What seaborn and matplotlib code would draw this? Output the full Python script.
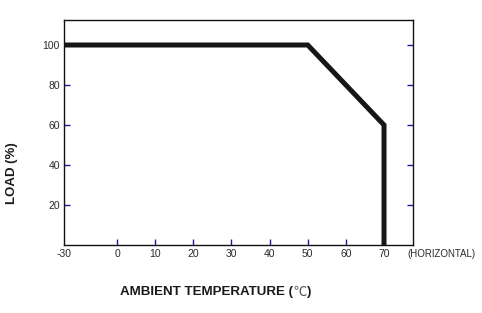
import numpy as np
import pandas as pd
import matplotlib
matplotlib.use("Agg")
import matplotlib.pyplot as plt
import seaborn as sns

# Data
temperature = [-30, 50, 70, 70]
load = [100, 100, 60, 0]
x_ticks = [-30, 0, 10, 20, 30, 40, 50, 60, 70]
y_ticks = [20, 40, 60, 80, 100]

sns.set_theme(style="white")
plt.rcParams['font.family'] = ['Liberation Sans', 'DejaVu Sans']

df = pd.DataFrame({"temp": temperature, "load": load})

fig = plt.figure(figsize=(4.82, 3.13), dpi=100)
ax = fig.add_axes([64/482, 1-245/313, (413-64)/482, (245-20)/313])

# piecewise scale: compressed below zero
k = 13.9 / 30.0
def fwd(x):
    x = np.asarray(x, dtype=float)
    return np.where(x < 0, x * k, x)
def inv(x):
    x = np.asarray(x, dtype=float)
    return np.where(x < 0, x / k, x)
ax.set_xscale('function', functions=(fwd, inv))

sns.lineplot(data=df, x="temp", y="load", sort=False, estimator=None,
             color="#161616", linewidth=3.6, ax=ax, solid_joinstyle='miter')

ax.set_xlim(-30, 77.6)
ax.set_ylim(0, 112.5)

ax.set_xticks(x_ticks)
ax.set_xticklabels([str(t) for t in x_ticks])
ax.set_yticks(y_ticks)
ax.set_yticklabels([str(t) for t in y_ticks])

ax.tick_params(axis='both', direction='in', length=4.5, width=1.0,
               color='#1a1a9a', labelsize=7.5, labelcolor='#2a2a2a', pad=3)
ax.tick_params(axis='y', right=True, left=True, labelright=False)
ax.tick_params(axis='x', bottom=True, top=False)
# hide the tick mark at -30
ax.xaxis.get_major_ticks()[0].tick1line.set_visible(False)

for s in ax.spines.values():
    s.set_visible(True)
    s.set_color('#111111')
    s.set_linewidth(1.0)

ax.set_xlabel("")
ax.set_ylabel("LOAD (%)", fontsize=9.5, fontweight='bold', color='#1a1a1a')
ax.yaxis.set_label_coords(-0.150, 0.32)
ax.yaxis.label.set_va('center')

# x label in three parts: bold text, light degree sign, bold paren
t1 = ax.text((120-64)/349, -0.207, "AMBIENT TEMPERATURE (", transform=ax.transAxes,
             ha='left', va='center', fontsize=9.6, fontweight='bold', color='#1a1a1a')
t2 = ax.annotate("\u2103", xy=(1, 0.5), xycoords=t1, xytext=(0.3, 0),
                 textcoords='offset points', ha='left', va='center',
                 fontsize=9.6, fontweight='light', color='#555555',
                 family=['Noto Sans CJK SC', 'DejaVu Sans'])
t3 = ax.annotate(")", xy=(1, 0.5), xycoords=t2, xytext=(0.3, 0),
                 textcoords='offset points', ha='left', va='center',
                 fontsize=9.6, fontweight='bold', color='#1a1a1a')

ax.text(0.983, -0.038, "(HORIZONTAL)", transform=ax.transAxes,
        ha='left', va='center', fontsize=7.0, color='#2a2a2a')

fig.savefig("out.png", dpi=100)
